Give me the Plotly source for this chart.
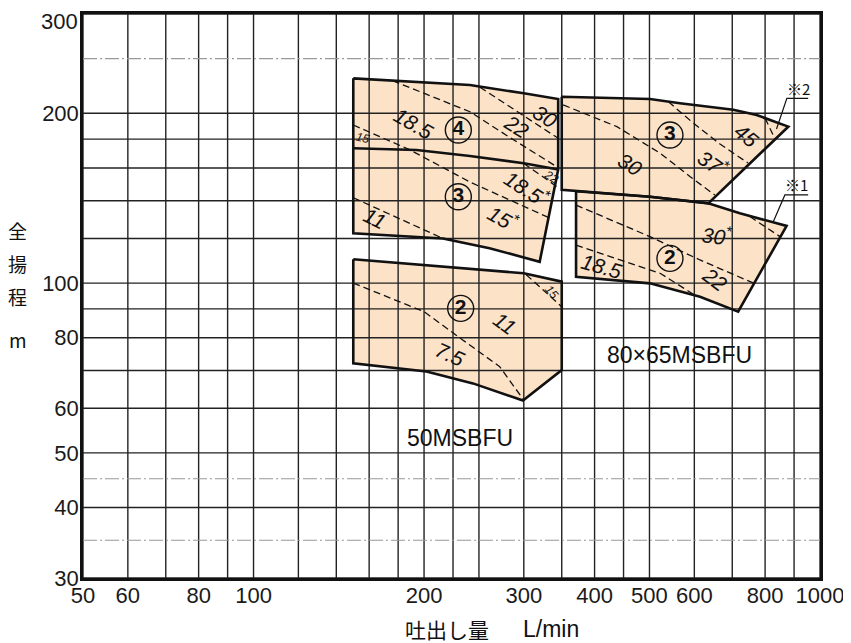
import numpy as np
import plotly.graph_objects as go

# ---------------- grid / ticks ----------------
x_grid = [50, 60, 70, 80, 90, 100, 120, 140, 160, 180, 200, 225, 250, 300,
          350, 400, 450, 500, 600, 700, 800, 900, 1000]
x_labeled = [50, 60, 80, 100, 200, 300, 400, 500, 600, 800, 1000]
y_grid_main = [30, 40, 50, 60, 70, 80, 90, 100, 120, 140, 160, 180, 200, 300]
y_grid_light = [35, 45, 250]
y_labeled = [30, 40, 50, 60, 80, 100, 200]
y_top_label = 300   # drawn as an annotation so that it is not clipped at the top edge

# ---------------- 50MSBFU ----------------
q50_upper = [150, 176, 200, 241, 300, 345, 345, 320, 261, 216, 150]
h50_upper = [230.7, 228.7, 227.3, 224.5, 217, 212, 159, 109.1, 115.3, 120, 122.6]
q50_stage_split = [150, 194, 241, 300, 345]
h50_stage_split = [173.4, 172.2, 168, 163.1, 159]
q50_d15 = [150, 189, 241, 334]
h50_d15 = [190.7, 172.2, 151.1, 130.3]
q50_d18 = [176, 241, 284, 343]
h50_d18 = [228.5, 201.3, 181, 160.8]
q50_d22 = [251, 345]
h50_d22 = [222.5, 180.6]
q50_d11 = [150, 216]
h50_d11 = [141.7, 120]
q50_d22b = [300, 343]
h50_d22b = [163, 148.3]

q50_lower = [150, 200, 300, 350, 350, 299, 244, 202, 150]
h50_lower = [110.2, 107.7, 104.1, 100.6, 70.1, 61.9, 66.4, 69.7, 72.1]
q50_d75 = [150, 200, 234, 272, 299]
h50_d75 = [100, 89, 79.3, 71.1, 62.3]
q50_d11b = [303, 350]
h50_d11b = [103.5, 90.8]

# ---------------- 80x65MSBFU ----------------
q80_upper = [350, 501, 566, 639, 703, 773, 879, 635, 501, 350]
h80_upper = [214, 212, 208.4, 205.5, 203, 198.6, 189.4, 138.5, 142.3, 146.3]
q80_d30 = [352, 438, 522, 590, 652]
h80_d30 = [207, 189.4, 170, 154.4, 143.3]
q80_d37 = [540, 598, 666, 746]
h80_d37 = [209.7, 192, 176.4, 163.3]
q80_d45 = [800, 832]
h80_d45 = [196, 180.6]
q80_lead2 = [838, 874, 953]
h80_lead2 = [187.6, 212.6, 212.6]

q80_lower = [371, 501, 635, 722, 873, 717, 614, 501, 371]
h80_lower = [145.5, 142.3, 138.5, 133, 126.3, 89, 94.6, 99.9, 102.6]
q80_d18 = [371, 438, 522, 602]
h80_d18 = [116.8, 110.6, 104.1, 95.1]
q80_d22 = [371, 501, 614, 765]
h80_d22 = [137.5, 120.9, 109.9, 99.9]
q80_d30b = [752, 850]
h80_d30b = [131.2, 120.9]
q80_lead1 = [827, 867, 953]
h80_lead1 = [128.5, 143.3, 143.3]

# ---------------- labels ----------------
kw_text = ["18.5", "22", "30", "15", "11", "18.5<sup>*</sup>", "15<sup>*</sup>", "22",
           "11", "7.5", "15",
           "30", "37<sup>*</sup>", "45", "30<sup>*</sup>", "22", "18.5"]
kw_q = [191.5, 291.4, 326.9, 156.2, 163.9, 303.4, 276, 336,
        277.9, 222.3, 336,
        461.9, 648, 742, 657, 652.5, 411.7]
kw_h = [192, 189.4, 197.2, 180.6, 130.3, 147.3, 130.3, 154.4,
        84.9, 74.6, 96.5,
        162, 163.1, 183, 121.7, 101.3, 106.9]
kw_angle = [30, 32, 32, 13, 26, 33, 30, 31, 36, 25, 50, 32, 35, 40, 7, 37, 16]
kw_size = [21, 21, 21, 12, 21, 21, 21, 12, 21, 21, 12, 21, 21, 21, 21, 21, 21]

stage_text = ["4", "3", "2", "3", "2"]
stage_q = [229.9, 229.9, 232.1, 543.4, 543.4]
stage_h = [186.8, 142.3, 90.2, 183, 110.6]

model_text = ["50MSBFU", "80×65MSBFU"]
model_q = [231.5, 565.8]
model_h = [53.1, 74.6]

note_text = ["※2", "※1"]
note_q = [916, 910]
note_h = [221.5, 149.3]

FILL = "#FCE3C8"
TICKFONT = dict(family="Liberation Sans", size=22, color="#1a1a1a")
fig = go.Figure()

polys = [(q50_upper, h50_upper), (q50_lower, h50_lower),
         (q80_upper, h80_upper), (q80_lower, h80_lower)]

# fills
for q, h in polys:
    fig.add_trace(go.Scatter(x=q, y=h, mode="lines", fill="toself", fillcolor=FILL,
                             line=dict(width=0), hoverinfo="skip", showlegend=False))

# grid lines drawn over the fills
def vlines(vals):
    xs, ys = [], []
    for v in vals:
        xs += [v, v, None]
        ys += [30, 300, None]
    return xs, ys

def hlines(vals):
    xs, ys = [], []
    for v in vals:
        xs += [50, 1000, None]
        ys += [v, v, None]
    return xs, ys

gx, gy = vlines(x_grid)
fig.add_trace(go.Scatter(x=gx, y=gy, mode="lines", line=dict(color="#222", width=1.4),
                         hoverinfo="skip", showlegend=False))
gx, gy = hlines(y_grid_main)
fig.add_trace(go.Scatter(x=gx, y=gy, mode="lines", line=dict(color="#222", width=1.4),
                         hoverinfo="skip", showlegend=False))
gx, gy = hlines(y_grid_light)
fig.add_trace(go.Scatter(x=gx, y=gy, mode="lines",
                         line=dict(color="#999", width=1.1, dash="14px,3px,2px,3px"),
                         hoverinfo="skip", showlegend=False))

# dashed power boundaries
dashed = [(q50_d15, h50_d15), (q50_d18, h50_d18), (q50_d22, h50_d22), (q50_d11, h50_d11),
          (q50_d22b, h50_d22b), (q50_d75, h50_d75), (q50_d11b, h50_d11b),
          (q80_d30, h80_d30), (q80_d37, h80_d37), (q80_d45, h80_d45),
          (q80_d18, h80_d18), (q80_d22, h80_d22), (q80_d30b, h80_d30b)]
for q, h in dashed:
    fig.add_trace(go.Scatter(x=q, y=h, mode="lines",
                             line=dict(color="#111", width=1.3, dash="7px,4px"),
                             hoverinfo="skip", showlegend=False))

# leader lines
for q, h in [(q80_lead1, h80_lead1), (q80_lead2, h80_lead2)]:
    fig.add_trace(go.Scatter(x=q, y=h, mode="lines", line=dict(color="#111", width=1.2),
                             hoverinfo="skip", showlegend=False))

# outlines
for q, h in polys:
    fig.add_trace(go.Scatter(x=q + [q[0]], y=h + [h[0]], mode="lines",
                             line=dict(color="#111", width=2.6),
                             hoverinfo="skip", showlegend=False))
fig.add_trace(go.Scatter(x=q50_stage_split, y=h50_stage_split, mode="lines",
                         line=dict(color="#111", width=2.6),
                         hoverinfo="skip", showlegend=False))

# circled stage numbers
fig.add_trace(go.Scatter(x=stage_q, y=stage_h, mode="markers+text",
                         text=["<b>%s</b>" % t for t in stage_text],
                         textposition="middle center",
                         textfont=dict(family="Liberation Sans Narrow, Liberation Sans",
                                       size=21, color="#111"),
                         marker=dict(symbol="circle-open", size=26,
                                     line=dict(color="#111", width=1.4), color="#111"),
                         hoverinfo="skip", showlegend=False))

annotations = []
for t, q, h, a, s in zip(kw_text, kw_q, kw_h, kw_angle, kw_size):
    annotations.append(dict(x=np.log10(q), y=np.log10(h), xref="x", yref="y", text=t,
                            showarrow=False, textangle=a,
                            xanchor="center", yanchor="middle",
                            font=dict(family="Liberation Sans", size=s, color="#111",
                                      style="italic")))
for t, q, h in zip(model_text, model_q, model_h):
    annotations.append(dict(x=np.log10(q), y=np.log10(h), xref="x", yref="y", text=t,
                            showarrow=False, xanchor="center", yanchor="middle",
                            font=dict(family="Liberation Sans", size=23, color="#111")))
for t, q, h in zip(note_text, note_q, note_h):
    annotations.append(dict(x=np.log10(q), y=np.log10(h), xref="x", yref="y", text=t,
                            showarrow=False, xanchor="center", yanchor="middle",
                            font=dict(family="Noto Sans CJK JP", size=15, color="#111")))

# top tick label (kept inside the page)
annotations.append(dict(x=0, y=1, xref="paper", yref="paper", text=str(y_top_label),
                        showarrow=False, xanchor="right", yanchor="top",
                        xshift=-3, yshift=7, font=TICKFONT))

# axis titles
ytitle_chars = ["全", "揚", "程", "m"]
ytitle_pos = [0.616, 0.558, 0.500, 0.422]
for c, p in zip(ytitle_chars, ytitle_pos):
    annotations.append(dict(x=-0.0882, y=p, xref="paper", yref="paper", text=c,
                            showarrow=False, xanchor="center", yanchor="middle",
                            font=dict(family="Noto Sans CJK JP", size=19, color="#111")))
annotations.append(dict(x=0.4939, y=-0.0905, xref="paper", yref="paper", text="吐出し量",
                        showarrow=False, xanchor="center", yanchor="middle",
                        font=dict(family="Noto Sans CJK JP", size=21, color="#111")))
annotations.append(dict(x=0.635, y=-0.0905, xref="paper", yref="paper", text="L/min",
                        showarrow=False, xanchor="center", yanchor="middle",
                        font=dict(family="Liberation Sans", size=23, color="#111")))

fig.update_layout(
    width=851, height=643,
    margin=dict(l=75, r=39, t=6, b=73, autoexpand=False),
    paper_bgcolor="white", plot_bgcolor="white",
    annotations=annotations,
    xaxis=dict(type="log", range=[np.log10(50), np.log10(1000)], automargin=False,
               tickvals=x_grid,
               ticktext=[str(v) if v in x_labeled else "" for v in x_grid],
               showgrid=False, zeroline=False, showline=True, mirror=True,
               linecolor="#111", linewidth=2.5, ticks="", ticklabelstandoff=-4,
               ticklabeloverflow="allow", tickfont=TICKFONT),
    yaxis=dict(type="log", range=[np.log10(30), np.log10(300)], automargin=False,
               tickvals=y_grid_main,
               ticktext=[str(v) if v in y_labeled else "" for v in y_grid_main],
               showgrid=False, zeroline=False, showline=True, mirror=True,
               linecolor="#111", linewidth=2.5, ticks="", ticklabelstandoff=-3,
               ticklabeloverflow="allow", tickfont=TICKFONT),
)

fig.write_html("out.html")
